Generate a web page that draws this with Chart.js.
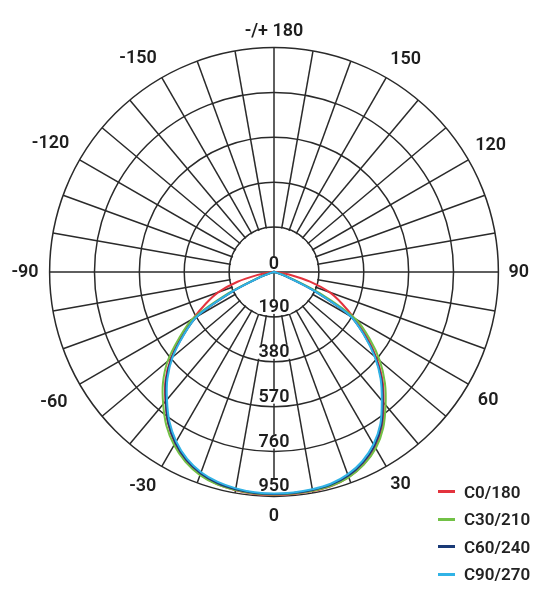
<!DOCTYPE html>
<html>
<head>
<meta charset="utf-8">
<script src="https://cdn.jsdelivr.net/npm/chart.js@4.4.1/dist/chart.umd.min.js"></script>
<style>
  html, body { margin: 0; padding: 0; background: #fff; }
  #wrap { position: relative; width: 554px; height: 600px; }
  #legend { position: absolute; left: 438px; top: 478px; font: 600 17px Roboto, sans-serif; color: #222; }
  #legend .item { display: flex; align-items: center; height: 27.5px; }
  #legend .sw { display: inline-block; width: 17px; height: 3px; margin-right: 9px; }
</style>
</head>
<body>
<div id="wrap">
  <canvas id="c"></canvas>
  <div id="legend"></div>
</div>
<script>
// ---- data ----
// gamma angles of the measurements (degrees, -90..90 step 5)
const gammaAngles = [-90,-85,-80,-75,-70,-65,-60,-55,-50,-45,-40,-35,-30,-25,-20,-15,-10,-5,0,5,10,15,20,25,30,35,40,45,50,55,60,65,70,75,80,85,90];
const seriesNames = ['C0/180', 'C30/210', 'C60/240', 'C90/270'];
const c0_180  = [0,20,70,160,252,320,395,480,570,650,715,782,838,882,912,930,938,943,944,943,942,938,924,898,858,800,722,650,566,480,392,318,250,158,68,20,0];
const c30_210 = [0,0,0,20,70,210,398,492,588,665,730,794,846,887,915,931,937,941,942,941,940,937,925,900,862,806,735,664,585,495,400,215,72,20,0,0,0];
const c60_240 = [0,0,0,10,55,185,375,470,565,645,712,780,835,878,907,925,934,939,940,939,937,932,918,890,850,792,716,643,560,468,372,180,52,10,0,0,0];
const c90_270 = [0,0,0,15,60,190,378,468,560,638,705,772,828,872,902,920,930,936,938,937,934,928,912,884,842,785,710,638,556,465,374,185,58,14,0,0,0];
const ringValues = [0, 190, 380, 570, 760, 950];
const angleLabelValues = [0, -30, -60, -90, -120, -150, 180, 150, 120, 90, 60, 30];
const seriesColors = ['#e3333d', '#72c146', '#1a3a76', '#31b3e6'];

// ---- build radar table (clockwise from bottom, 5° steps) ----
const gridColor = '#2a2a2a';
const textColor = '#1e1e1e';
const radarAngles = [];
for (let i = 0; i < 72; i++) radarAngles.push(i <= 36 ? -5 * i : 360 - 5 * i);
const seriesData = [c0_180, c30_210, c60_240, c90_270];
function toRadar(arr) {
  return radarAngles.map(g => {
    const k = gammaAngles.indexOf(g);
    return k >= 0 ? arr[k] : null;
  });
}
function labelFor(g) {
  if (Math.abs(g) === 180) return '-/+ 180';
  return angleLabelValues.includes(g) ? String(g) : '';
}
const labelPadding = { '0': 9, '180': 5, '-180': 5, '90': 10, '-90': 11, '60': 11, '-60': 14, '120': 8, '-120': 12, '30': 8, '-30': 11, '150': 8, '-150': 10 };

const polarDecor = {
  id: 'polarDecor',
  beforeDatasetsDraw(chart) {
    const s = chart.scales.r;
    const ctx = chart.ctx;
    const cx = s.xCenter, cy = s.yCenter;
    const r1 = s.getDistanceFromCenterForValue(ringValues[1]);
    ctx.save();
    ctx.fillStyle = '#fff';
    ctx.beginPath(); ctx.arc(cx, cy, r1 - 1, 0, 2 * Math.PI); ctx.fill();
    ctx.strokeStyle = gridColor; ctx.lineWidth = 1.5;
    ctx.beginPath();
    ctx.moveTo(cx - r1, cy); ctx.lineTo(cx + r1, cy);
    ctx.moveTo(cx, cy - r1); ctx.lineTo(cx, cy + r1);
    ctx.stroke();
    ctx.font = '600 18px Roboto, sans-serif';
    ctx.textAlign = 'center';
    ctx.textBaseline = 'middle';
    ringValues.forEach(v => {
      const d = s.getDistanceFromCenterForValue(v);
      const y = cy + d - (v === 0 ? 8 : 9.5);
      const label = String(v);
      const w = ctx.measureText(label).width;
      ctx.fillStyle = '#fff';
      ctx.fillRect(cx - w / 2 - 1, y - 7.5, w + 2, 14);
      ctx.fillStyle = textColor;
      ctx.fillText(label, cx, y);
    });
    ctx.restore();
  }
};

const chart = new Chart(document.getElementById('c'), {
  type: 'radar',
  data: {
    labels: radarAngles.map(String),
    datasets: seriesNames.map((name, i) => ({
      label: name,
      data: toRadar(seriesData[i]),
      borderColor: seriesColors[i],
      backgroundColor: 'rgba(0,0,0,0)',
      borderWidth: 2,
      pointRadius: 0,
      pointHoverRadius: 0,
      fill: false,
      tension: 0.3,
      spanGaps: true,
      order: 3 - i
    }))
  },
  options: {
    responsive: true,
    maintainAspectRatio: false,
    animation: false,
    layout: { padding: { top: 20, bottom: 70, left: 0, right: 12 } },
    plugins: { legend: { display: false }, tooltip: { enabled: false } },
    scales: {
      r: {
        min: ringValues[0],
        max: ringValues[ringValues.length - 1],
        startAngle: 180,
        ticks: { display: false, stepSize: ringValues[1] - ringValues[0] },
        grid: { circular: true, color: gridColor, lineWidth: 1.5 },
        angleLines: {
          display: true,
          color: ctx => (ctx.index % 2 === 0 ? gridColor : 'rgba(0,0,0,0)'),
          lineWidth: ctx => (ctx.index % 2 === 0 ? 1.5 : 0)
        },
        pointLabels: {
          display: true,
          callback: (v, i) => labelFor(radarAngles[i]),
          color: textColor,
          font: ctx => {
            const isLabel = labelFor(radarAngles[ctx.index]) !== '';
            return { family: 'Roboto', size: 18, weight: '600', lineHeight: isLabel ? 1.2 : 0.1 };
          },
          padding: ctx => {
            const g = String(radarAngles[ctx.index]);
            return g in labelPadding ? labelPadding[g] : 0;
          }
        }
      }
    }
  },
  plugins: [polarDecor]
});

const legendEl = document.getElementById('legend');
chart.data.datasets.forEach(ds => {
  const row = document.createElement('div');
  row.className = 'item';
  const sw = document.createElement('span');
  sw.className = 'sw';
  sw.style.background = ds.borderColor;
  const tx = document.createElement('span');
  tx.textContent = ds.label;
  row.append(sw, tx);
  legendEl.append(row);
});
</script>
</body>
</html>
